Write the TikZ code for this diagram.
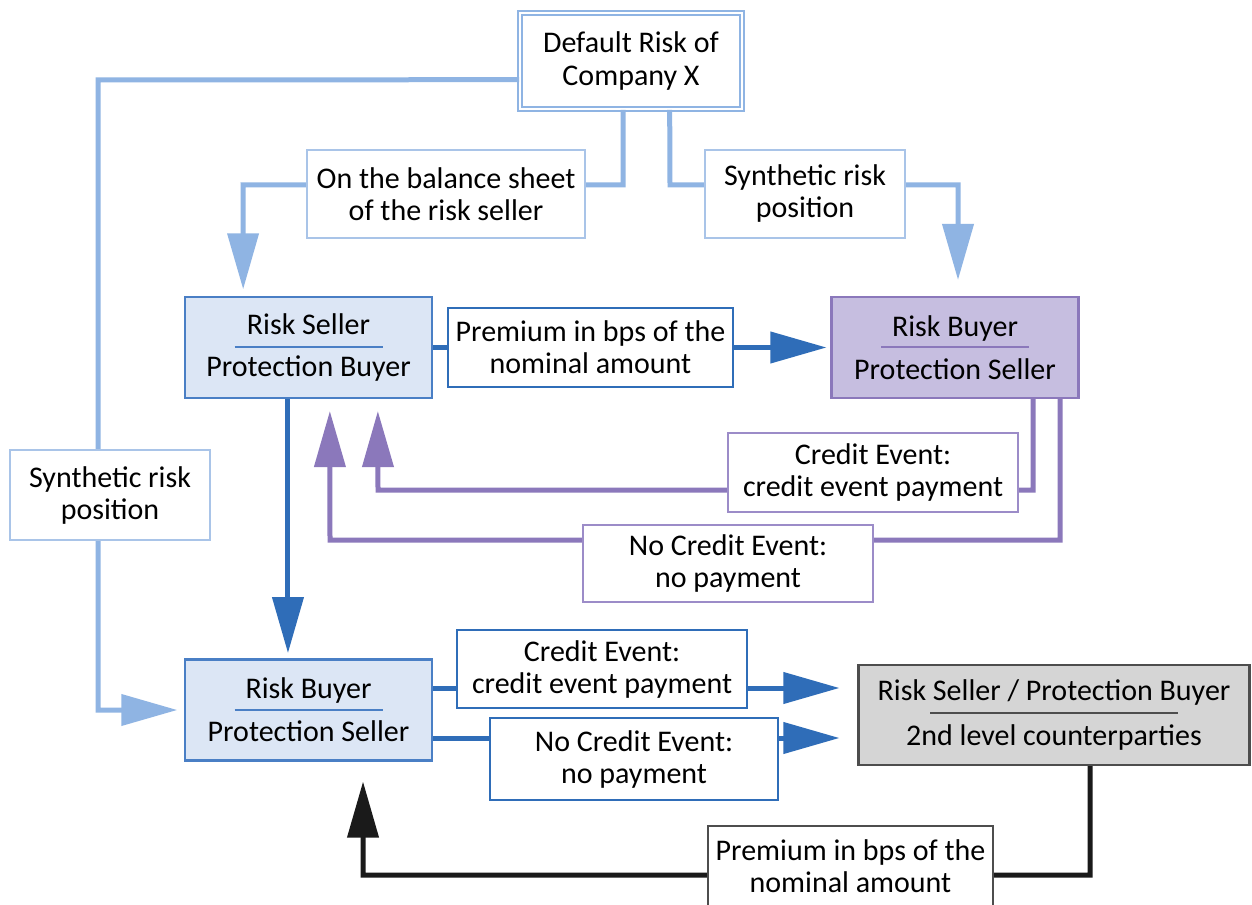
\documentclass[tikz,border=0pt]{standalone}
\usepackage{fontspec}
\setmainfont{Carlito}
\usetikzlibrary{arrows.meta,calc}
\definecolor{lblue}{HTML}{8FB4E3}
\definecolor{lbluelab}{HTML}{A9C4E8}
\definecolor{dblue}{HTML}{2F6DB8}
\definecolor{bborder}{HTML}{4A7FC5}
\definecolor{bfill}{HTML}{DCE6F5}
\definecolor{purp}{HTML}{8B78BB}
\definecolor{purplab}{HTML}{9C8CC8}
\definecolor{pfill}{HTML}{C6BEE0}
\definecolor{gfill}{HTML}{D5D5D5}
\definecolor{gborder}{HTML}{4D4D4D}
\definecolor{kline}{HTML}{1A1A1A}
\newcommand{\mylabfont}{\fontsize{22.5}{24}\selectfont}
\newcommand{\myboxfont}{\fontsize{22.5}{32}\selectfont}
\newcommand{\mygrayfont}{\fontsize{22.5}{34}\selectfont}
\begin{document}
\begin{tikzpicture}[x=0.75pt,y=-0.75pt,
  tip/.style={-{Triangle[length=42pt,width=23pt]}},
  arrL/.style={draw=lblue, line width=3.75pt, tip},
  arrB/.style={draw=dblue, line width=3.75pt, tip},
  arrP/.style={draw=purp, line width=3.75pt, tip},
  arrK/.style={draw=kline, line width=3.75pt, tip},
  lab/.style={draw=#1, line width=1.1pt, fill=white, align=center, font=\mylabfont, inner sep=0pt},
  mbox/.style={draw=#1, line width=1.8pt, align=center, font=\myboxfont, inner sep=0pt, minimum width=185pt, minimum height=75.5pt},
  rulestyle/.style={draw=#1, line width=1.5pt}
]
\useasboundingbox (0,0) rectangle (1252,905);
\fill[white] (0,0) rectangle (1252,905);

% main boxes
\node[draw=lblue, double=white, double distance=1.6pt, line width=1.2pt, align=center,
      font=\fontsize{22.5}{24.75}\selectfont, inner sep=0pt,
      minimum width=166.5pt, minimum height=72pt, fill=white] (def) at (631,61) {Default Risk of\\Company X};
\node[mbox=bborder, fill=bfill] (rs) at (308.5,347.5) {Risk Seller\\Protection Buyer};
\node[mbox=purp, fill=pfill] (rbp) at (955,347.5) {Risk Buyer\\Protection Seller};
\node[mbox=bborder, fill=bfill] (rb) at (308.5,710) {Risk Buyer\\Protection Seller};
\node[draw=gborder, fill=gfill, line width=1.8pt, align=center, font=\mygrayfont, inner sep=0pt,
      minimum width=293pt, minimum height=75pt] (gray) at (1054,715) {Risk Seller / Protection Buyer\\2nd level counterparties};

\draw[rulestyle=bborder] ([xshift=-55.5pt]rs.center) -- ([xshift=55.5pt]rs.center);
\draw[rulestyle=purp] ([xshift=-55.5pt]rbp.center) -- ([xshift=55.5pt]rbp.center);
\draw[rulestyle=bborder] ([xshift=-55.5pt]rb.center) -- ([xshift=55.5pt]rb.center);
\draw[rulestyle=gborder, line width=1.2pt] ([xshift=-93pt,yshift=1.5pt]gray.center) -- ([xshift=93pt,yshift=1.5pt]gray.center);

% connectors
\draw[arrL, shorten >=5pt] ([yshift=-14pt]def.west) -- (98,80) -- (98,710) -- (rb.west);
\draw[arrL, shorten >=5pt] ([xshift=-6pt]def.south) -- (623,185) -- (243,185) -- ([xshift=-49pt]rs.north);
\draw[arrL, shorten >=12pt] ([xshift=29pt]def.south) -- (670,185) -- (958,185) -- ([xshift=2.25pt]rbp.north);
\draw[arrB, shorten >=3pt] (rs.east) -- (rbp.west);
\draw[arrP, shorten >=9pt] ([xshift=58.5pt]rbp.south) -- (1033,490) -- (378,490) -- ([xshift=52pt]rs.south);
\draw[arrP, shorten >=9pt] ([xshift=78.75pt]rbp.south) -- (1060,540) -- (330,540) -- ([xshift=16pt]rs.south);
\draw[arrB, shorten >=4pt] ([xshift=-15.4pt]rs.south) -- ([xshift=-15.4pt]rb.north);
\draw[arrB, shorten >=13.5pt] ([yshift=16.5pt]rb.east) -- ([yshift=20.25pt]gray.west);
\draw[arrB, shorten >=13.5pt] ([yshift=-21pt]rb.east) -- ([yshift=-17.25pt]gray.west);
\draw[arrK, shorten >=15pt] ([xshift=27pt]gray.south) -- (1090,875) -- (363,875) -- ([xshift=40.9pt]rb.south);

% labels
\node[lab=lbluelab, minimum width=150pt, minimum height=67.5pt] (l1) at (110,495) {Synthetic risk\\position};
\node[lab=lbluelab, minimum width=208.5pt, minimum height=66pt] (l2) at (446,194) {On the balance sheet\\of the risk seller};
\node[lab=lbluelab, minimum width=150pt, minimum height=66pt] (l3) at (805,194) {Synthetic risk\\position};
\node[lab=dblue, minimum width=213.75pt, minimum height=59.25pt] (l4) at (590.5,347.5) {Premium in bps of the\\nominal amount};
\node[lab=purplab, minimum width=217.5pt, minimum height=59.25pt] (l5) at (873,472.5) {Credit Event:\\credit event payment};
\node[lab=purplab, minimum width=217.5pt, minimum height=57.75pt] (l6) at (728,563.5) {No Credit Event:\\no payment};
\node[lab=dblue, minimum width=217.5pt, minimum height=58.5pt] (l7) at (602,669) {Credit Event:\\credit event payment};
\node[lab=dblue, minimum width=216pt, minimum height=61.5pt] (l8) at (634,759) {No Credit Event:\\no payment};
\node[lab=gborder, minimum width=213.75pt, minimum height=60pt] (l9) at (850.5,866) {Premium in bps of the\\nominal amount};
\end{tikzpicture}
\end{document}
